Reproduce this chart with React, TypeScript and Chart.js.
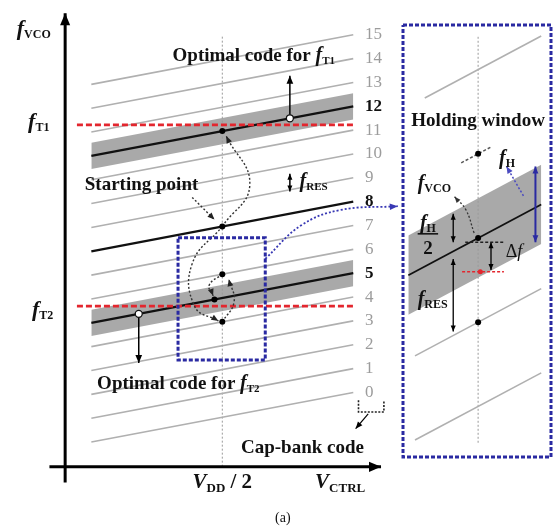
import React, { useEffect, useRef } from "react";
import { Chart, registerables } from "chart.js";

Chart.register(...registerables);

// ---------------- data (main panel) ----------------
const CAP_CODES = [0, 1, 2, 3, 4, 5, 6, 7, 8, 9, 10, 11, 12, 13, 14, 15];
const HIGHLIGHT_CODES = [12, 8, 5];
const BAND_CODES = [12, 5];
const CODE_SLOPE = 0.208; // f_VCO (code units) per V_CTRL unit
const CODE_LINE_X = [1, 11]; // V_CTRL span of each tuning curve
const BAND_HALF_WIDTH = 0.55;
const F_TARGETS = [11.22, 3.62]; // f_T1, f_T2
const TARGET_X = [0.45, 11];
const VDD_HALF = 6;
const SEARCH_CODES = [12, 8, 6, 4];
const EXTRA_DOT = [5.7, 5]; // [V_CTRL, code]
const OPT_T1 = [8.58, 12]; // [V_CTRL, code]
const OPT_T2 = [2.81, 5];
const ZOOM_X = [4.31, 7.64];
const ZOOM_Y = [1.36, 6.49];
const AXIS_Y = -3.12;

// ---------------- data (inset panel) ----------------
const INSET_SLOPE = 0.281;
const INSET_CODES = [7, 4, 3];
const INSET_CODE_X0 = [4.8, 4.58, 4.58];
const INSET_X1 = 7.42;
const INSET_LOCK_CODE = 5;
const INSET_LOCK_X = [4.43, 7.42];
const INSET_BAND = 0.47;
const INSET_FH_CODE = 6;
const INSET_FH_X = [5.62, 6.29];
const DELTA_F_Y = [3.91, 3.56];

// ---------------- styles ----------------
const FONT = '"Liberation Serif", "Times New Roman", serif';
const LINE_GRAY = "#b0b0b0";
const BAND_GRAY = "#a9a9a9";
const RED = "#e3262e";
const BLUE = "#2a2aa2";
const LABEL_GRAY = "#9c9c9c";

const mainY = (c: number, x: number) => c + CODE_SLOPE * (x - CODE_LINE_X[1]);
const insetY = (c: number, x: number) => mainY(c, VDD_HALF) + INSET_SLOPE * (x - VDD_HALF);

type P = { x: number; y: number };
const pts = (arr: number[][]): P[] => arr.map(([x, y]) => ({ x, y }));

function lineDs(data: P[], opts: any = {}) {
  return {
    data,
    borderColor: "#000",
    borderWidth: 1.5,
    pointRadius: 0,
    fill: false,
    tension: 0,
    clip: false,
    ...opts,
  };
}

function dotDs(data: P[], opts: any = {}) {
  return {
    data,
    showLine: false,
    pointRadius: 3,
    pointBackgroundColor: "#000",
    pointBorderColor: "#000",
    pointBorderWidth: 0,
    clip: false,
    order: 0,
    ...opts,
  };
}

type Run = { t: string; s: number; b?: boolean; i?: boolean; dy?: number };
type Txt = {
  x: number;
  y: number;
  align: "left" | "center" | "right";
  runs: Run[];
  color?: string;
  baseline?: CanvasTextBaseline;
};

function drawRuns(ctx: CanvasRenderingContext2D, t: Txt, px: number, py: number) {
  ctx.save();
  ctx.textBaseline = t.baseline ?? "alphabetic";
  ctx.textAlign = "left";
  ctx.fillStyle = t.color ?? "#111";
  const fonts = t.runs.map(
    (r) => `${r.i ? "italic " : ""}${r.b ? "bold " : ""}${r.s}px ${FONT}`
  );
  const widths = t.runs.map((r, k) => {
    ctx.font = fonts[k];
    return ctx.measureText(r.t).width;
  });
  const total = widths.reduce((a, b) => a + b, 0);
  let x = t.align === "left" ? px : t.align === "center" ? px - total / 2 : px - total;
  t.runs.forEach((r, k) => {
    ctx.font = fonts[k];
    ctx.fillText(r.t, x, py + (r.dy ?? 0));
    x += widths[k];
  });
  ctx.restore();
}

const textPlugin = (texts: Txt[]) => ({
  id: "texts",
  afterDatasetsDraw(chart: any) {
    const { ctx, scales } = chart;
    texts.forEach((t) => {
      drawRuns(ctx, t, scales.x.getPixelForValue(t.x), scales.y.getPixelForValue(t.y));
    });
  },
});

const arrowPlugin = {
  id: "arrows",
  afterDatasetsDraw(chart: any) {
    const ctx = chart.ctx as CanvasRenderingContext2D;
    chart.data.datasets.forEach((ds: any, i: number) => {
      if (!ds.arrow) return;
      const el = chart.getDatasetMeta(i).data as any[];
      if (el.length < 2) return;
      const size = ds.arrowSize ?? 8;
      const color = ds.arrowColor ?? ds.borderColor;
      const head = (p: any, q: any) => {
        const a = Math.atan2(p.y - q.y, p.x - q.x);
        const w = size * 0.42;
        ctx.save();
        ctx.fillStyle = color;
        ctx.beginPath();
        ctx.moveTo(p.x, p.y);
        ctx.lineTo(p.x - size * Math.cos(a) + w * Math.sin(a), p.y - size * Math.sin(a) - w * Math.cos(a));
        ctx.lineTo(p.x - size * Math.cos(a) - w * Math.sin(a), p.y - size * Math.sin(a) + w * Math.cos(a));
        ctx.closePath();
        ctx.fill();
        ctx.restore();
      };
      const useCp = (p: any, cx: any, cy: any) =>
        ds.tension && cx !== undefined && Math.hypot(cx - p.x, cy - p.y) > 0.5;
      if (ds.arrow === "end" || ds.arrow === "both") {
        const p = el[el.length - 1];
        const q = useCp(p, p.cp1x, p.cp1y) ? { x: p.cp1x, y: p.cp1y } : el[el.length - 2];
        head(p, q);
      }
      if (ds.arrow === "start" || ds.arrow === "both") {
        const p = el[0];
        const q = useCp(p, p.cp2x, p.cp2y) ? { x: p.cp2x, y: p.cp2y } : el[1];
        head(p, q);
      }
    });
  },
};

const baseOptions = (xr: number[], yr: number[], padding: any) => ({
  responsive: false,
  animation: false as const,
  events: [] as any[],
  layout: { padding },
  elements: { point: { radius: 0 } },
  plugins: {
    legend: { display: false },
    tooltip: { enabled: false },
    title: { display: false },
  },
  scales: {
    x: { type: "linear" as const, min: xr[0], max: xr[1], display: false },
    y: { type: "linear" as const, min: yr[0], max: yr[1], display: false },
  },
});

// ---------------- main panel ----------------
function mainConfig(): any {
  const ds: any[] = [];
  BAND_CODES.forEach((b) => {
    ds.push(
      lineDs(CODE_LINE_X.map((x) => ({ x, y: mainY(b, x) + BAND_HALF_WIDTH })), {
        borderColor: "rgba(0,0,0,0)",
        fill: "+1",
        backgroundColor: BAND_GRAY,
        order: 9,
      })
    );
    ds.push(
      lineDs(CODE_LINE_X.map((x) => ({ x, y: mainY(b, x) - BAND_HALF_WIDTH })), {
        borderColor: "rgba(0,0,0,0)",
        order: 9,
      })
    );
  });
  CAP_CODES.forEach((c) => {
    const hi = HIGHLIGHT_CODES.includes(c);
    ds.push(
      lineDs(CODE_LINE_X.map((x) => ({ x, y: mainY(c, x) })), {
        borderColor: hi ? "#111" : LINE_GRAY,
        borderWidth: hi ? 2.3 : 1.6,
        order: hi ? 5 : 6,
      })
    );
  });
  // V_DD/2 marker
  ds.push(
    lineDs(pts([[VDD_HALF, 14.92], [VDD_HALF, AXIS_Y]]), {
      borderColor: "#9a9a9a",
      borderDash: [2, 2],
      borderWidth: 1,
      order: 7,
    })
  );
  // target frequencies
  F_TARGETS.forEach((f) =>
    ds.push(
      lineDs(TARGET_X.map((x) => ({ x, y: f })), {
        borderColor: RED,
        borderDash: [6, 3],
        borderWidth: 2.6,
        order: 3,
      })
    )
  );
  // axes
  ds.push(lineDs(pts([[-0.6, AXIS_Y], [12.06, AXIS_Y]]), { borderWidth: 3, arrow: "end", arrowSize: 12, order: 1 }));
  ds.push(lineDs(pts([[0, -3.78], [0, 15.9]]), { borderWidth: 3, arrow: "end", arrowSize: 12, order: 1 }));
  // zoom box
  ds.push(
    lineDs(
      pts([
        [ZOOM_X[0], ZOOM_Y[1]],
        [ZOOM_X[1], ZOOM_Y[1]],
        [ZOOM_X[1], ZOOM_Y[0]],
        [ZOOM_X[0], ZOOM_Y[0]],
        [ZOOM_X[0], ZOOM_Y[1]],
      ]),
      { borderColor: BLUE, borderDash: [4, 2], borderWidth: 3, order: 2 }
    )
  );
  // search trajectory (dotted arcs)
  const dotted = { borderColor: "#333", borderDash: [2, 2], borderWidth: 1.4, tension: 0.45, arrow: "end", arrowSize: 7, arrowColor: "#222", order: 2 };
  ds.push(lineDs(pts([[6, mainY(8, 6)], [7.05, 8.7], [6.15, 10.75]]), dotted));
  ds.push(lineDs(pts([[6, mainY(8, 6)], [4.85, 5.4], [4.95, 3.6], [5.85, 3.0]]), dotted));
  ds.push(lineDs(pts([[6, mainY(6, 6)], [5.5, 4.5], [5.65, 4.05]]), dotted));
  ds.push(lineDs(pts([[6, mainY(4, 6)], [6.45, 3.8], [6.25, 4.75]]), dotted));
  ds.push(lineDs(pts([[4.85, 8.18], [5.7, 7.25]]), { ...dotted, tension: 0 }));
  // optimal-code arrows
  ds.push(lineDs(pts([[OPT_T1[0], mainY(OPT_T1[1], OPT_T1[0]) + 0.1], [OPT_T1[0], 13.28]]), { borderWidth: 1.5, arrow: "end", arrowSize: 8, order: 2 }));
  ds.push(lineDs(pts([[OPT_T2[0], mainY(OPT_T2[1], OPT_T2[0]) - 0.1], [OPT_T2[0], 1.23]]), { borderWidth: 1.5, arrow: "end", arrowSize: 8, order: 2 }));
  ds.push(
    dotDs(pts([[OPT_T1[0], mainY(OPT_T1[1], OPT_T1[0])], [OPT_T2[0], mainY(OPT_T2[1], OPT_T2[0])]]), {
      pointRadius: 3.5,
      pointBackgroundColor: "#fff",
      pointBorderColor: "#111",
      pointBorderWidth: 1.3,
    })
  );
  // f_RES arrow
  ds.push(lineDs(pts([[8.58, 9.17], [8.58, 8.43]]), { borderWidth: 1.5, arrow: "both", arrowSize: 6, order: 2 }));
  // link to inset
  ds.push(
    lineDs(pts([[7.64, 5.6], [9.0, 7.0], [10.5, 7.65], [12.7, 7.81]]), {
      borderColor: "#3838b4",
      borderDash: [2, 2],
      borderWidth: 1.8,
      tension: 0.4,
      arrow: "end",
      arrowSize: 8,
      order: 2,
    })
  );
  // cap-bank bracket
  ds.push(
    lineDs(pts([[11.2, -0.33], [11.2, -0.82], [12.17, -0.82], [12.17, -0.33]]), {
      borderColor: "#222",
      borderDash: [2, 1.5],
      borderWidth: 1.6,
      order: 2,
    })
  );
  ds.push(lineDs(pts([[11.57, -0.9], [11.09, -1.52]]), { borderWidth: 1.2, arrow: "end", arrowSize: 7, order: 2 }));
  // search points
  ds.push(
    dotDs([
      ...SEARCH_CODES.map((c) => ({ x: VDD_HALF, y: mainY(c, VDD_HALF) })),
      { x: EXTRA_DOT[0], y: mainY(EXTRA_DOT[1], EXTRA_DOT[0]) },
    ])
  );

  const texts: Txt[] = [
    { x: -0.55, y: 15.0, align: "right", runs: [{ t: "f", s: 22, b: true, i: true }, { t: "VCO", s: 12, b: true, dy: 3 }] },
    { x: -0.6, y: 11.1, align: "right", runs: [{ t: "f", s: 22, b: true, i: true }, { t: "T1", s: 12, b: true, dy: 3 }] },
    { x: -0.45, y: 3.21, align: "right", runs: [{ t: "f", s: 22, b: true, i: true }, { t: "T2", s: 12, b: true, dy: 3 }] },
    { x: 4.1, y: 13.89, align: "left", runs: [{ t: "Optimal code for ", s: 19, b: true }, { t: "f", s: 20, b: true, i: true }, { t: "T1", s: 11, b: true, dy: 3 }] },
    { x: 1.22, y: 0.16, align: "left", runs: [{ t: "Optimal code for ", s: 19, b: true }, { t: "f", s: 20, b: true, i: true }, { t: "T2", s: 11, b: true, dy: 3 }] },
    { x: 0.75, y: 8.47, align: "left", runs: [{ t: "Starting point", s: 19, b: true }] },
    { x: 8.95, y: 8.63, align: "left", runs: [{ t: "f", s: 20, b: true, i: true }, { t: "RES", s: 11, b: true, dy: 3 }] },
    { x: 9.06, y: -2.55, align: "center", runs: [{ t: "Cap-bank code", s: 19, b: true }] },
    { x: VDD_HALF, y: -3.99, align: "center", runs: [{ t: "V", s: 21, b: true, i: true }, { t: "DD", s: 13, b: true, dy: 4 }, { t: " / 2", s: 21, b: true }] },
    { x: 10.5, y: -3.99, align: "center", runs: [{ t: "V", s: 21, b: true, i: true }, { t: "CTRL", s: 13, b: true, dy: 4 }] },
    { x: 8.31, y: -5.43, align: "center", runs: [{ t: "(a)", s: 14 }] },
    ...CAP_CODES.map((c) => {
      const hi = HIGHLIGHT_CODES.includes(c);
      return {
        x: 11.45,
        y: c,
        align: "left" as const,
        baseline: "middle" as CanvasTextBaseline,
        color: hi ? "#111" : LABEL_GRAY,
        runs: [{ t: String(c), s: 17, b: hi }],
      };
    }),
  ];

  return {
    type: "line",
    data: { datasets: ds },
    options: baseOptions([-2.285, 18.5], [-5.63, 16.235], 0),
    plugins: [arrowPlugin, textPlugin(texts)],
  };
}

// ---------------- inset panel ----------------
function insetConfig(): any {
  const ds: any[] = [];
  ds.push(
    lineDs(INSET_LOCK_X.map((x) => ({ x, y: insetY(INSET_LOCK_CODE, x) + INSET_BAND })), {
      borderColor: "rgba(0,0,0,0)",
      fill: "+1",
      backgroundColor: BAND_GRAY,
      order: 9,
    })
  );
  ds.push(
    lineDs(INSET_LOCK_X.map((x) => ({ x, y: insetY(INSET_LOCK_CODE, x) - INSET_BAND })), {
      borderColor: "rgba(0,0,0,0)",
      order: 9,
    })
  );
  INSET_CODES.forEach((c, k) =>
    ds.push(
      lineDs([INSET_CODE_X0[k], INSET_X1].map((x) => ({ x, y: insetY(c, x) })), {
        borderColor: LINE_GRAY,
        borderWidth: 1.6,
        order: 6,
      })
    )
  );
  ds.push(lineDs(INSET_LOCK_X.map((x) => ({ x, y: insetY(INSET_LOCK_CODE, x) })), { borderColor: "#111", borderWidth: 1.8, order: 5 }));
  ds.push(lineDs(INSET_FH_X.map((x) => ({ x, y: insetY(INSET_FH_CODE, x) })), { borderColor: "#555", borderDash: [3, 2], borderWidth: 1.5, order: 5 }));
  ds.push(lineDs(pts([[VDD_HALF, 6.35], [VDD_HALF, 1.53]]), { borderColor: "#9a9a9a", borderDash: [2, 2], borderWidth: 1, order: 7 }));
  // box
  ds.push(
    lineDs(
      pts([
        [ZOOM_X[0], ZOOM_Y[1]],
        [ZOOM_X[1], ZOOM_Y[1]],
        [ZOOM_X[1], ZOOM_Y[0]],
        [ZOOM_X[0], ZOOM_Y[0]],
        [ZOOM_X[0], ZOOM_Y[1]],
      ]),
      { borderColor: BLUE, borderDash: [4, 2], borderWidth: 3, order: 2 }
    )
  );
  // f_H/2 and f_RES arrows
  ds.push(lineDs(pts([[5.44, DELTA_F_Y[0]], [5.44, 4.25]]), { borderWidth: 1.3, arrow: "both", arrowSize: 6, order: 2 }));
  ds.push(lineDs(pts([[5.44, 3.71], [5.44, 2.85]]), { borderWidth: 1.3, arrow: "both", arrowSize: 6, order: 2 }));
  ds.push(lineDs(pts([[4.64, 4.01], [5.1, 4.01]]), { borderWidth: 1.4, order: 2 }));
  // Δf
  ds.push(lineDs(pts([[5.71, DELTA_F_Y[0]], [6.58, DELTA_F_Y[0]]]), { borderColor: "#222", borderDash: [3, 2], borderWidth: 1.3, order: 2 }));
  ds.push(lineDs(pts([[5.64, DELTA_F_Y[1]], [6.58, DELTA_F_Y[1]]]), { borderColor: RED, borderDash: [3, 2], borderWidth: 1.6, order: 2 }));
  ds.push(lineDs(pts([[6.29, DELTA_F_Y[0]], [6.29, DELTA_F_Y[1] + 0.02]]), { borderWidth: 1.3, arrow: "both", arrowSize: 6, order: 2 }));
  // f_VCO pointer
  ds.push(
    lineDs(pts([[5.91, 4.02], [5.72, 4.3], [5.47, 4.45]]), {
      borderColor: "#333",
      borderDash: [2, 2],
      borderWidth: 1.3,
      tension: 0.45,
      arrow: "end",
      arrowSize: 6,
      order: 2,
    })
  );
  // holding window (blue)
  ds.push(lineDs(pts([[7.29, DELTA_F_Y[0]], [7.29, 4.81]]), { borderColor: BLUE, borderWidth: 2, arrow: "both", arrowSize: 7, order: 2 }));
  ds.push(lineDs(pts([[7.02, 4.46], [6.64, 4.81]]), { borderColor: "#4a4ac0", borderDash: [2, 2], borderWidth: 1.5, arrow: "end", arrowSize: 7, order: 2 }));
  // points
  ds.push(
    dotDs([
      { x: VDD_HALF, y: insetY(INSET_FH_CODE, VDD_HALF) },
      { x: VDD_HALF, y: insetY(4, VDD_HALF) },
      { x: VDD_HALF, y: insetY(INSET_LOCK_CODE, VDD_HALF) },
    ])
  );
  ds.push(dotDs([{ x: 6.05, y: DELTA_F_Y[1] }], { pointBackgroundColor: RED, pointRadius: 2.5 }));

  const texts: Txt[] = [
    { x: 6.0, y: 5.29, align: "center", runs: [{ t: "Holding window", s: 19, b: true }] },
    { x: 6.47, y: 4.84, align: "left", runs: [{ t: "f", s: 20, b: true, i: true }, { t: "H", s: 12, b: true, dy: 3 }] },
    { x: 4.64, y: 4.54, align: "left", runs: [{ t: "f", s: 20, b: true, i: true }, { t: "VCO", s: 12, b: true, dy: 3 }] },
    { x: 4.87, y: 4.07, align: "center", runs: [{ t: "f", s: 20, b: true, i: true }, { t: "H", s: 12, b: true, dy: 3 }] },
    { x: 4.87, y: 3.77, align: "center", runs: [{ t: "2", s: 19, b: true }] },
    { x: 6.62, y: 3.73, align: "left", runs: [{ t: "Δ", s: 18 }, { t: "f", s: 18, i: true }] },
    { x: 4.64, y: 3.17, align: "left", runs: [{ t: "f", s: 20, b: true, i: true }, { t: "RES", s: 12, b: true, dy: 3 }] },
  ];

  return {
    type: "line",
    data: { datasets: ds },
    options: baseOptions(ZOOM_X, ZOOM_Y, { left: 8, top: 10, right: 2, bottom: 13 }),
    plugins: [arrowPlugin, textPlugin(texts)],
  };
}

export default function App() {
  const mainRef = useRef<HTMLCanvasElement>(null);
  const insetRef = useRef<HTMLCanvasElement>(null);
  useEffect(() => {
    const c1 = new Chart(mainRef.current!, mainConfig());
    const c2 = new Chart(insetRef.current!, insetConfig());
    return () => {
      c1.destroy();
      c2.destroy();
    };
  }, []);
  return (
    <div style={{ position: "absolute", left: 0, top: 0, width: 555, height: 532, background: "#fff" }}>
      <canvas
        ref={mainRef}
        width={555}
        height={532}
        style={{ position: "absolute", left: 0, top: 0, width: 555, height: 532 }}
      />
      <canvas
        ref={insetRef}
        width={160}
        height={455}
        style={{ position: "absolute", left: 395, top: 15, width: 160, height: 455 }}
      />
    </div>
  );
}
